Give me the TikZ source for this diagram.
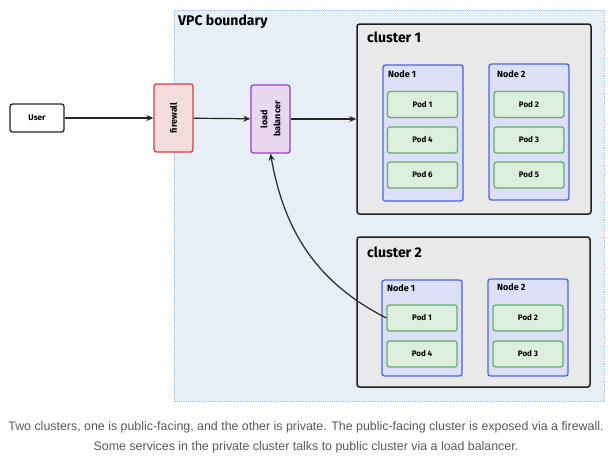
\documentclass[tikz,border=0pt]{standalone}
\usepackage{fontspec}
\setmainfont{Liberation Sans}
\newfontfamily\sketchfont{Fira Sans}
\usetikzlibrary{arrows.meta}
\definecolor{vpcfill}{HTML}{E6EFF6}
\definecolor{vpcline}{HTML}{9DC3E6}
\definecolor{fwline}{HTML}{DD3B3B}
\definecolor{fwfill}{HTML}{F3DCDC}
\definecolor{lbline}{HTML}{A33BC0}
\definecolor{lbfill}{HTML}{EAD8F0}
\definecolor{clusterfill}{HTML}{E9E9E9}
\definecolor{nodeline}{HTML}{4A63E0}
\definecolor{nodefill}{HTML}{DCDFF5}
\definecolor{podline}{HTML}{62AE6B}
\definecolor{podfill}{HTML}{DCEEDC}
\definecolor{captiongray}{HTML}{585858}
\tikzset{
  box/.style={draw, rounded corners=2.5pt, line width=1.3pt, inner sep=1pt,
    font=\sketchfont\bfseries\fontsize{8.2}{9}\selectfont},
  userbox/.style={box, draw=black!85, fill=white, minimum width=54pt, minimum height=28pt},
  fwbox/.style={box, draw=fwline, fill=fwfill, minimum width=39pt, minimum height=68pt},
  lbbox/.style={box, draw=lbline, fill=lbfill, minimum width=39pt, minimum height=68pt},
  clusterbox/.style={box, draw=black!88, fill=clusterfill, line width=1.5pt},
  nodebox/.style={box, draw=nodeline, fill=nodefill, minimum width=80pt},
  podbox/.style={box, draw=podline, fill=podfill, minimum width=70pt, minimum height=26pt,
    font=\sketchfont\bfseries\fontsize{8}{9}\selectfont},
  title/.style={anchor=west, inner sep=0pt, font=\sketchfont\bfseries\fontsize{14}{16}\selectfont},
  nodetitle/.style={anchor=west, inner sep=0pt, font=\sketchfont\bfseries\fontsize{9}{10}\selectfont},
  sidetext/.style={rotate=90, align=center, font=\sketchfont\bfseries\fontsize{9}{13}\selectfont},
  arrow/.style={draw=black!85, line width=1.2pt, -{Stealth[length=7pt,width=6pt]}}
}
\begin{document}
\begin{tikzpicture}[x=1pt,y=-1pt]
\useasboundingbox (0,0) rectangle (612,456);
\draw[vpcline, fill=vpcfill, densely dotted, line width=0.8pt] (174,10) rectangle (604,401);
\node[title] (vpctitle) at (178,22) {VPC boundary};
\node[userbox] (user) at (37,118) {User};
\node[fwbox] (fw) at (173.5,118) {};
\node[sidetext] (fwtext) at (fw.center) {firewall};
\node[lbbox] (lb) at (270.5,119) {};
\node[sidetext] (lbtext) at (lb.center) {load\\balancer};
\node[clusterbox, minimum width=234pt, minimum height=190pt] (cone) at (474,119) {};
\node[title] (conetitle) at (367,37) {cluster 1};
\node[nodebox, minimum height=136pt] (conenodeone) at (423,133) {};
\node[nodebox, minimum height=136pt] (conenodetwo) at (529,132) {};
\node[nodetitle] at (388,74) {Node 1};
\node[nodetitle] at (497,74) {Node 2};
\node[podbox] (conepodone) at (422.5,104.5) {Pod 1};
\node[podbox] (conepodfour) at (422.5,140) {Pod 4};
\node[podbox] (conepodsix) at (422.5,175) {Pod 6};
\node[podbox] (conepodtwo) at (529,104.5) {Pod 2};
\node[podbox] (conepodthree) at (529,140) {Pod 3};
\node[podbox] (conepodfive) at (529,175) {Pod 5};
\node[clusterbox, minimum width=233pt, minimum height=150pt] (ctwo) at (473.5,312) {};
\node[title] (ctwotitle) at (367,252) {cluster 2};
\node[nodebox, minimum height=96pt] (ctwonodeone) at (422,328) {};
\node[nodebox, minimum height=97pt] (ctwonodetwo) at (528,327.5) {};
\node[nodetitle] at (387,288) {Node 1};
\node[nodetitle] at (497,287) {Node 2};
\node[podbox] (ctwopodone) at (422,318) {Pod 1};
\node[podbox] (ctwopodfour) at (422,354) {Pod 4};
\node[podbox] (ctwopodtwo) at (528,318) {Pod 2};
\node[podbox] (ctwopodthree) at (528,354) {Pod 3};
\draw[arrow] (user) -- (fw);
\draw[arrow] (fw) -- (lb);
\draw[arrow] (lb.east) -- (lb.east -| cone.west);
\draw[arrow] (ctwopodone.west) to[out=153,in=-80] (lb.south);
\node[text=captiongray, align=center, font=\fontsize{12.4}{20}\selectfont] (caption) at (306,437)
  {Two clusters, one is public-facing, and the other is private. The public-facing cluster is exposed via a firewall.\\
   Some services in the private cluster talks to public cluster via a load balancer.};
\end{tikzpicture}
\end{document}
